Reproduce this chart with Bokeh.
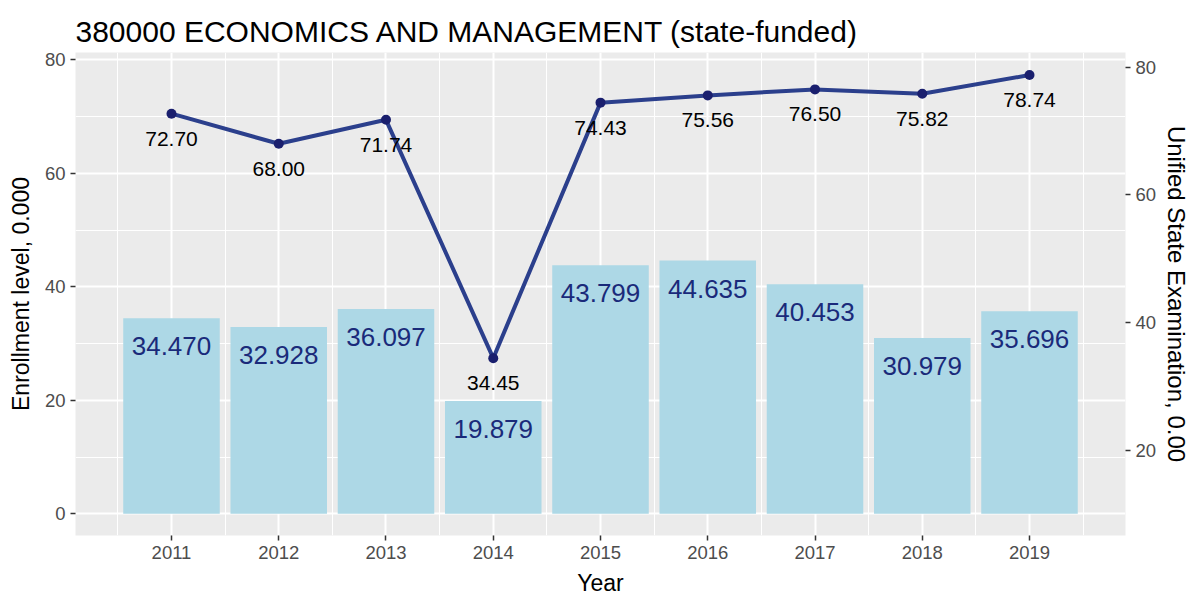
from bokeh.plotting import figure
from bokeh.models import Range1d, LinearAxis, FixedTicker, ColumnDataSource
from bokeh.core.properties import value
from bokeh.embed import file_html
from bokeh.resources import INLINE

years = [2011, 2012, 2013, 2014, 2015, 2016, 2017, 2018, 2019]
enrollment = [34.470, 32.928, 36.097, 19.879, 43.799, 44.635, 40.453, 30.979, 35.696]
exam = [72.70, 68.00, 71.74, 34.45, 74.43, 75.56, 76.50, 75.82, 78.74]
left_ticks = [0, 20, 40, 60, 80]
right_ticks = [20, 40, 60, 80]
title_text = "380000 ECONOMICS AND MANAGEMENT (state-funded)"

FONT = "Liberation Sans"
# secondary axis transform: left = A * exam + B
A, B = 1.1265, -11.38
y_lo, y_hi = -3.82, 81.3

src = ColumnDataSource(dict(
    x=years, enr=enrollment, exam=exam,
    enr_lbl=[f"{v:.3f}" for v in enrollment],
    exam_lbl=[f"{v:.2f}" for v in exam],
))

p = figure(width=1200, height=607, output_backend="svg", toolbar_location=None,
           x_range=Range1d(2010.105, 2019.895), y_range=Range1d(y_lo, y_hi),
           min_border_left=75, min_border_right=75, min_border_top=52, min_border_bottom=72)
p.extra_y_ranges = {"exam": Range1d((y_lo - B) / A, (y_hi - B) / A)}

p.background_fill_color = "#EBEBEB"
p.border_fill_color = "white"
p.outline_line_color = None

p.title.text = title_text
p.title.text_font = FONT
p.title.text_font_size = "30px"
p.title.text_font_style = "normal"
p.title.text_color = "black"
p.title.offset = 0
p.title.standoff = 10

# x axis
p.xaxis.ticker = FixedTicker(ticks=years, minor_ticks=[y - 0.5 for y in years] + [years[-1] + 0.5])
p.xaxis.axis_label = "Year"
# left axis
p.yaxis.ticker = FixedTicker(ticks=left_ticks, minor_ticks=[10, 30, 50, 70])
p.yaxis.axis_label = "Enrollment level, 0.000"

ax_r = LinearAxis(y_range_name="exam", ticker=FixedTicker(ticks=right_ticks),
                  axis_label="Unified State Examination, 0.00")
p.add_layout(ax_r, "right")

for ax in p.axis:
    ax.axis_line_color = None
    ax.major_tick_line_color = "#333333"
    ax.major_tick_line_width = 1.5
    ax.major_tick_out = 5
    ax.major_tick_in = 0
    ax.minor_tick_line_color = None
    ax.major_label_text_font = FONT
    ax.major_label_text_font_size = "18.5px"
    ax.major_label_text_color = "#4D4D4D"
    ax.major_label_standoff = 5
    ax.axis_label_text_font = FONT
    ax.axis_label_text_font_size = "23px"
    ax.axis_label_text_font_style = "normal"
    ax.axis_label_text_color = "black"
    ax.axis_label_standoff = 8
ax_r.axis_label_standoff = 4
ax_r.axis_label_text_font_size = "24px"

for g in (p.xgrid, p.ygrid):
    g.grid_line_color = "white"
    g.grid_line_width = 2
    g.minor_grid_line_color = "white"
    g.minor_grid_line_width = 1

p.vbar(x="x", top="enr", bottom=0, width=0.9, source=src,
       fill_color="#ADD8E6", line_color=None)
p.text(x="x", y="enr", text="enr_lbl", source=src, text_align="center",
       text_baseline="middle", y_offset=28, text_font=value(FONT),
       text_font_size="26px", text_color="#1A2A7A")

p.line(x="x", y="exam", source=src, y_range_name="exam",
       line_color="#2B3F8C", line_width=4)
p.scatter(x="x", y="exam", source=src, y_range_name="exam",
          size=10, fill_color="#1A1F6E", line_color=None)
p.text(x="x", y="exam", text="exam_lbl", source=src, y_range_name="exam",
       text_align="center", text_baseline="middle", y_offset=25,
       text_font=value(FONT), text_font_size="21px", text_color="black")

open("out.html", "w").write(file_html(p, INLINE))
